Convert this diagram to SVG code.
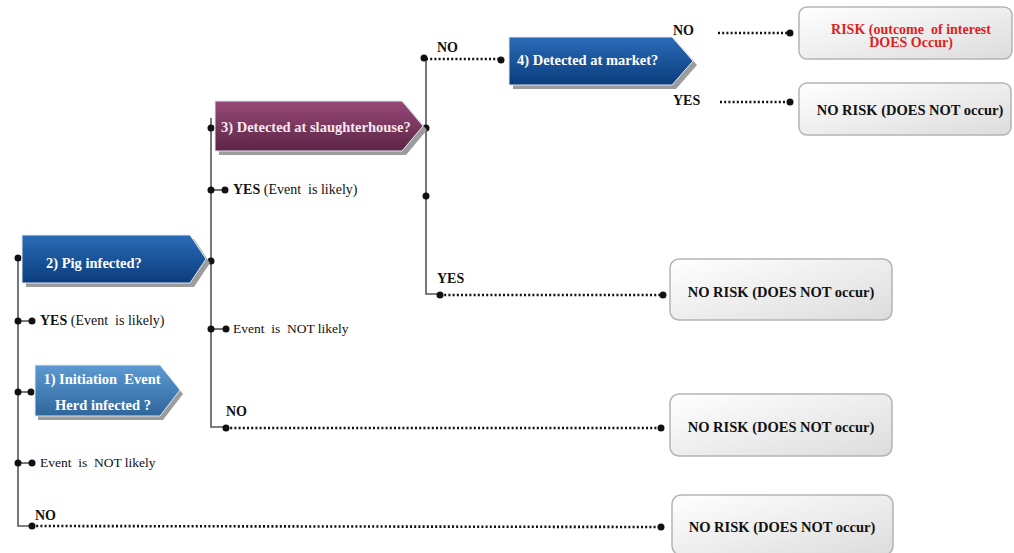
<svg xmlns="http://www.w3.org/2000/svg" width="1014" height="553" viewBox="0 0 1014 553" xml:space="preserve">
<defs>
<linearGradient id="gBlue" x1="0" y1="0" x2="0" y2="1"><stop offset="0" stop-color="#2a6cb8"/><stop offset="1" stop-color="#0b3c7c"/></linearGradient>
<linearGradient id="gLight" x1="0" y1="0" x2="0" y2="1"><stop offset="0" stop-color="#5c9ad2"/><stop offset="1" stop-color="#2f669c"/></linearGradient>
<linearGradient id="gMaroon" x1="0" y1="0" x2="0" y2="1"><stop offset="0" stop-color="#974a76"/><stop offset="1" stop-color="#5c2446"/></linearGradient>
<linearGradient id="gRes" x1="0" y1="0" x2="1" y2="1"><stop offset="0" stop-color="#ffffff"/><stop offset="1" stop-color="#dcdcdc"/></linearGradient>
<style>
text{white-space:pre}
.shadow{fill:#9c9c9c}
.box{stroke:#dfe8f2;stroke-width:1}
.bt{font-family:"Liberation Serif",serif;font-weight:bold;font-size:14.5px;fill:#ffffff}
.res{fill:url(#gRes);stroke:#b4b4b4;stroke-width:1.5}
.rt{font-family:"Liberation Serif",serif;font-weight:bold;font-size:14.5px;fill:#111;text-anchor:middle}
.red{fill:#e01e1e;font-size:14px}
.lbl{font-family:"Liberation Serif",serif;font-size:14px;fill:#111}
.sm{font-size:13.5px}
.b{font-weight:bold}
.line{stroke:#555;stroke-width:1.6;fill:none}
.dot{stroke:#111;stroke-width:2.6;stroke-dasharray:2 2.2;fill:none}
.pt{fill:#111}
</style>
</defs>
<rect width="1014" height="553" fill="#ffffff"/>

<g id="connectors">
<polyline class="line" points="18,258 18,526 32,526"/>
<line class="line" x1="18" y1="321" x2="32" y2="321"/>
<line class="line" x1="18" y1="392" x2="31" y2="392"/>
<line class="line" x1="18" y1="463" x2="32" y2="463"/>
<polyline class="line" points="211,118 211,427 226,427"/>
<line class="line" x1="211" y1="190" x2="225" y2="190"/>
<line class="line" x1="211" y1="329" x2="226" y2="329"/>
<polyline class="line" points="426,57 426,294 440,294"/>
<line class="dot" x1="426" y1="59" x2="501" y2="59"/>
<line class="dot" x1="718" y1="33" x2="790" y2="33"/>
<line class="dot" x1="720" y1="102" x2="790" y2="102"/>
<line class="dot" x1="440" y1="295" x2="663" y2="295"/>
<line class="dot" x1="226" y1="428" x2="661" y2="428"/>
<line class="dot" x1="32" y1="526" x2="661" y2="527"/>
<g class="pt">
<circle cx="18" cy="258" r="3.5"/><circle cx="18" cy="321" r="3.5"/><circle cx="32" cy="321" r="3.5"/>
<circle cx="18" cy="392" r="3.5"/><circle cx="31" cy="392" r="3.5"/>
<circle cx="18" cy="463" r="3.5"/><circle cx="32" cy="463" r="3.5"/>
<circle cx="32" cy="526" r="3.5"/><circle cx="661" cy="527" r="3.5"/>
<circle cx="211" cy="261" r="3.5"/><circle cx="211" cy="128" r="3.5"/>
<circle cx="211" cy="190" r="3.5"/><circle cx="225" cy="190" r="3.5"/>
<circle cx="211" cy="329" r="3.5"/><circle cx="226" cy="329" r="3.5"/>
<circle cx="226" cy="428" r="3.5"/><circle cx="661" cy="428" r="3.5"/>
<circle cx="426" cy="128" r="3.5"/><circle cx="426" cy="196" r="3.5"/>
<circle cx="424" cy="58" r="3.5"/><circle cx="501" cy="60" r="3.5"/>
<circle cx="440" cy="295" r="3.5"/><circle cx="663" cy="295" r="3.5"/>
<circle cx="790" cy="33" r="3.5"/><circle cx="790" cy="102" r="3.5"/>
</g>
<text class="lbl" x="40" y="325"><tspan class="b">YES</tspan> (Event  is likely)</text>
<text class="lbl sm" x="40" y="467">Event  is  NOT likely</text>
<text class="lbl b" x="35" y="520">NO</text>
<text class="lbl" x="233" y="194"><tspan class="b">YES</tspan> (Event  is likely)</text>
<text class="lbl sm" x="233" y="333">Event  is  NOT likely</text>
<text class="lbl b" x="226" y="416">NO</text>
<text class="lbl b" x="437" y="52">NO</text>
<text class="lbl b" x="437" y="283">YES</text>
<text class="lbl b" x="673" y="35">NO</text>
<text class="lbl b" x="673" y="105">YES</text>
</g>

<g id="node-initiation">
<polygon class="shadow" points="38,369 163,369 183,394 163,420 38,420"/>
<polygon class="box" fill="url(#gLight)" points="35,365 160,365 180,390 160,416 35,416"/>
<text class="bt" x="102" y="384" text-anchor="middle">1) Initiation  Event</text>
<text class="bt" x="103" y="410" text-anchor="middle">Herd infected ?</text>
</g>

<g id="node-pig">
<polygon class="shadow" points="26,239 194,239 210,263 194,287 26,287"/>
<polygon class="box" fill="url(#gBlue)" points="22,235 190,235 206,259 190,283 22,283"/>
<text class="bt" x="46" y="268">2) Pig infected?</text>
</g>

<g id="node-slaughter">
<polygon class="shadow" points="219,105 406,105 427,130 406,155 219,155"/>
<polygon class="box" fill="url(#gMaroon)" points="215,101 402,101 423,126 402,151 215,151"/>
<text class="bt" x="221" y="132" style="fill:#f6e8f0">3) Detected at slaughterhouse?</text>
</g>

<g id="node-market">
<polygon class="shadow" points="513,41 676,41 697,65 676,89 513,89"/>
<polygon class="box" fill="url(#gBlue)" points="509,37 672,37 693,61 672,85 509,85"/>
<text class="bt" x="517" y="65">4) Detected at market?</text>
</g>

<g id="node-risk">
<rect class="res" x="799" y="7" width="213" height="52" rx="8"/>
<text class="rt red" x="911" y="34">RISK (outcome  of interest</text>
<text class="rt red" x="911" y="47">DOES Occur)</text>
</g>

<g id="node-norisk-market">
<rect class="res" x="799" y="83" width="212" height="52" rx="8"/>
<text class="rt" x="910" y="115">NO RISK (DOES NOT occur)</text>
</g>

<g id="node-norisk-slaughter">
<rect class="res" x="670" y="259" width="222" height="61" rx="9"/>
<text class="rt" x="781" y="297">NO RISK (DOES NOT occur)</text>
</g>

<g id="node-norisk-pig">
<rect class="res" x="670" y="394" width="222" height="62" rx="9"/>
<text class="rt" x="781" y="432">NO RISK (DOES NOT occur)</text>
</g>

<g id="node-norisk-herd">
<rect class="res" x="672" y="495" width="221" height="60" rx="9"/>
<text class="rt" x="782" y="532">NO RISK (DOES NOT occur)</text>
</g>
</svg>
